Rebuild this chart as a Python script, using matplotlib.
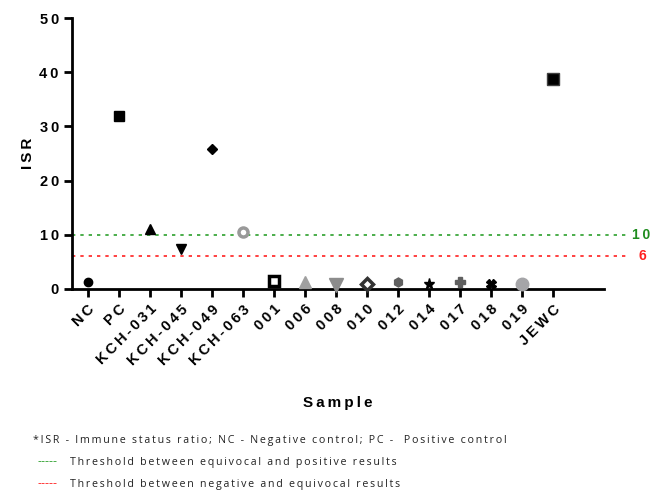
import matplotlib.pyplot as plt

samples = ['NC', 'PC', 'KCH-031', 'KCH-045', 'KCH-049', 'KCH-063', '001', '006',
           '008', '010', '012', '014', '017', '018', '019', 'JEWC']
isr = [1.2, 31.9, 11.1, 7.4, 25.9, 10.5, 1.5, 1.2, 0.8, 1.0, 1.3, 1.0, 1.3, 1.0, 1.0, 38.8]
y_ticks = [0, 10, 20, 30, 40, 50]
thr_pos = 10
thr_neg = 6

# marker style per sample: (marker, size, face, edge, edge width)
styles = [
    ('o', 6, 'black', 'black', 1),
    ('s', 6.5, 'black', 'black', 1),
    ('^', 7, 'black', 'black', 1),
    ('v', 7, 'black', 'black', 1),
    ('D', 5, 'black', 'black', 1),
    ('o', 6.5, 'white', '#999999', 2.5),
    ('s', 6.5, 'white', 'black', 2.5),
    ('^', 9, '#a0a0a0', '#a0a0a0', 1),
    ('v', 9.5, '#8c8c8c', '#8c8c8c', 1),
    ('D', 6.5, 'white', '#333333', 2.5),
    ('h', 6.5, '#606060', '#606060', 1),
    ('*', 8, 'black', 'black', 1),
    ('P', 7, '#606060', '#606060', 1),
    ('X', 7, 'black', 'black', 1),
    ('o', 9, '#a5a5a8', '#a5a5a8', 1),
    ('s', 8.5, 'black', '#404040', 1),
]

sp = '\u2009'


def spaced(s):
    return sp.join(s)


plt.rcParams['font.family'] = ['Liberation Sans', 'DejaVu Sans']
fig = plt.figure(figsize=(6.52, 5), dpi=100)
ax = fig.add_axes([72 / 652, 1 - 289 / 500, 532 / 652, 271 / 500])

for i, (v, st) in enumerate(zip(isr, styles)):
    m, s, fc, ec, lw = st
    ax.plot(i, v, marker=m, ms=s, mfc=fc, mec=ec, mew=lw, ls='none', clip_on=False, zorder=3)

ax.axhline(thr_pos, xmin=0, xmax=1.045, color='#2ca02c', ls=(0, (2, 3)), lw=1.2, clip_on=False)
ax.axhline(thr_neg, xmin=0, xmax=1.045, color='#ff2020', ls=(0, (2, 3)), lw=1.2, clip_on=False)
ax.text(1.053, thr_pos, spaced('10'), transform=ax.get_yaxis_transform(), color='#1e8c1e',
        fontsize=10, fontweight='bold', va='center', ha='left')
ax.text(1.065, thr_neg, '6', transform=ax.get_yaxis_transform(), color='#ff2020',
        fontsize=10, fontweight='bold', va='center', ha='left')

ax.set_xlim(-0.5, 16.65)
ax.set_ylim(0, 50)
ax.set_yticks(y_ticks)
ax.set_yticklabels([spaced(str(t)) for t in y_ticks], fontsize=10.5, fontweight='bold')
ax.set_xticks(range(len(samples)))
ax.set_xticklabels([spaced(s) for s in samples], rotation=45, ha='right',
                   rotation_mode='anchor', fontsize=10.5, fontweight='bold')
for side in ['top', 'right']:
    ax.spines[side].set_visible(False)
for side in ['left', 'bottom']:
    ax.spines[side].set_linewidth(2)
ax.tick_params(width=2, length=6)
ax.set_ylabel(spaced('ISR'), fontsize=11, fontweight='bold', labelpad=3)
ax.set_xlabel(spaced('Sample'), fontsize=11, fontweight='bold', labelpad=20)

foot = dict(fontsize=7.7, family=['Open Sans', 'DejaVu Sans'], color='#222222', va='center')
fig.text(33 / 652, 1 - 440 / 500, spaced('*ISR - Immune status ratio; NC - Negative control; PC -  Positive control'), **foot)
fig.text(70 / 652, 1 - 462 / 500, spaced('Threshold between equivocal and positive results'), **foot)
fig.text(70 / 652, 1 - 484 / 500, spaced('Threshold between negative and equivocal results'), **foot)
fig.text(37 / 652, 1 - 462 / 500, '-----', color='#2ca02c', fontsize=9, va='center')
fig.text(37 / 652, 1 - 484 / 500, '-----', color='#ff2020', fontsize=9, va='center')

fig.savefig('out.png', dpi=100)
